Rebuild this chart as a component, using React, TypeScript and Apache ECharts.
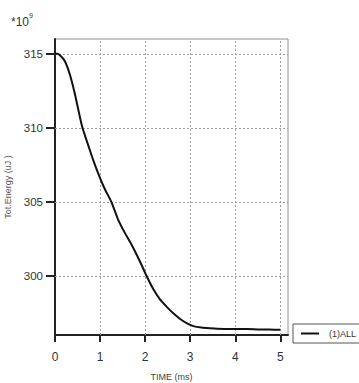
import React, { useEffect, useRef } from "react";
import * as echarts from "echarts";

const timeMs = [0, 0.05, 0.11, 0.22, 0.33, 0.44, 0.6, 0.75, 0.85, 1.0, 1.1, 1.25, 1.4, 1.55, 1.7, 1.88, 2.03, 2.18, 2.33, 2.48, 2.63, 2.77, 2.92, 3.07, 3.25, 3.44, 3.6, 3.8, 4.0, 4.25, 4.5, 4.75, 5.0];
const totEnergy = [315.0, 315.0, 314.9, 314.5, 313.6, 312.3, 310.1, 308.7, 307.8, 306.6, 305.9, 305.0, 303.8, 302.9, 302.1, 301.0, 300.0, 299.1, 298.4, 297.9, 297.45, 297.1, 296.8, 296.6, 296.5, 296.45, 296.42, 296.41, 296.4, 296.4, 296.38, 296.37, 296.35];
const xTicks = [0, 1, 2, 3, 4, 5];
const yTicks = [300, 305, 310, 315];
const seriesName = "(1)ALL";

export default function App() {
  const ref = useRef<HTMLDivElement>(null);
  useEffect(() => {
    if (!ref.current) return;
    const chart = echarts.init(ref.current, null, { renderer: "svg" });
    const font = "'Liberation Sans', Arial, sans-serif";
    const gridStyle = { type: [2, 2] as any, color: "#a0a0a0", width: 1 };
    chart.setOption({
      animation: false,
      textStyle: { fontFamily: font },
      grid: {
        left: 55,
        right: 71,
        top: 39,
        bottom: 48,
        show: true,
        borderColor: "#909090",
        borderWidth: 1,
        containLabel: false,
        outerBoundsMode: "none",
      },
      graphic: [
        {
          type: "text",
          left: 11,
          top: 12,
          style: {
            text: "{a|*10}{b|9}",
            rich: {
              a: { fontSize: 12, fill: "#333", fontFamily: font, padding: [4, 0, 0, 0] },
              b: { fontSize: 7, fill: "#333", fontFamily: font, verticalAlign: "top", padding: [0, 0, 8, 0] },
            },
          },
        },
      ],
      legend: {
        left: 293,
        top: 324,
        data: [seriesName],
        borderColor: "#555",
        borderWidth: 1,
        borderRadius: 0,
        padding: [5, 12, 5, 8],
        icon: "rect",
        itemWidth: 18,
        itemHeight: 2,
        textStyle: { fontSize: 9, color: "#333", padding: [0, 0, 0, 5], fontFamily: font },
      },
      xAxis: {
        type: "value",
        min: 0,
        max: 5.17,
        name: "TIME (ms)",
        nameLocation: "middle",
        nameGap: 37,
        nameTextStyle: { fontSize: 9, color: "#444", fontFamily: font },
        axisLine: { show: true, onZero: false, lineStyle: { color: "#222", width: 2 } },
        axisTick: { show: true, length: 7, lineStyle: { color: "#222", width: 2 }, customValues: xTicks },
        axisLabel: { fontSize: 12, color: "#333", margin: 16, customValues: xTicks, fontFamily: font },
        splitLine: { show: false },
      },
      yAxis: {
        type: "value",
        min: 296,
        max: 316,
        name: "Tot.Energy (uJ )",
        nameLocation: "middle",
        nameGap: 35,
        nameTextStyle: { fontSize: 9, color: "#555", fontFamily: font },
        axisLine: { show: true, onZero: false, lineStyle: { color: "#222", width: 2 } },
        axisTick: { show: true, length: 9, lineStyle: { color: "#222", width: 2 }, customValues: yTicks },
        axisLabel: { fontSize: 11.5, color: "#333", margin: 12, customValues: yTicks, fontFamily: font },
        splitLine: { show: false },
      },
      series: [
        {
          name: seriesName,
          type: "line",
          data: timeMs.map((t, i) => [t, totEnergy[i]]),
          showSymbol: false,
          symbol: "none",
          smooth: 0.2,
          lineStyle: { color: "#111", width: 2 },
          itemStyle: { color: "#111" },
          z: 5,
          markLine: {
            silent: true,
            symbol: "none",
            label: { show: false },
            lineStyle: gridStyle,
            z: 1,
            data: [
              ...xTicks.filter((v) => v > 0).map((v) => ({ xAxis: v })),
              ...yTicks.map((v) => ({ yAxis: v })),
            ],
          },
        },
      ],
    });
    return () => chart.dispose();
  }, []);
  return <div ref={ref} style={{ width: 359, height: 383, position: "absolute", left: 0, top: 0 }} />;
}
